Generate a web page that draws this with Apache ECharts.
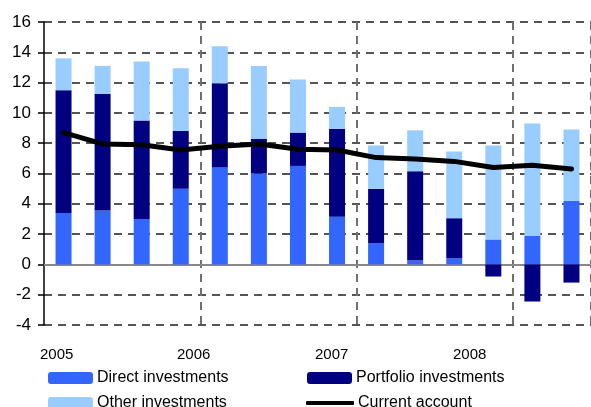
<!DOCTYPE html>
<html><head><meta charset="utf-8">
<script src="https://cdn.jsdelivr.net/npm/echarts@6/dist/echarts.min.js"></script>
<style>html,body{margin:0;padding:0;background:#fff}#c{width:591px;height:407px}</style>
</head><body><div id="c"></div>
<script>
const quarters = ['2005Q1','2005Q2','2005Q3','2005Q4','2006Q1','2006Q2','2006Q3','2006Q4','2007Q1','2007Q2','2007Q3','2007Q4','2008Q1','2008Q2'];
const direct =    [3.4, 3.55, 3.0, 5.0, 6.4, 6.0, 6.5, 3.15, 1.4, 0.25, 0.4, 1.65, 1.9, 4.2];
const portfolio = [8.1, 7.7, 6.5, 3.8, 5.55, 2.3, 2.2, 5.8, 3.6, 5.9, 2.65, -0.8, -2.45, -1.2];
const other =     [2.1, 1.85, 3.9, 4.15, 2.45, 4.8, 3.5, 1.45, 2.85, 2.7, 4.4, 6.2, 7.4, 4.7];
const current =   [8.7, 7.95, 7.9, 7.55, 7.8, 7.95, 7.6, 7.55, 7.05, 6.95, 6.8, 6.4, 6.55, 6.3];
const years = ['2005','2006','2007','2008'];
const yearLabelX = [57, 194, 332, 470];
const yTicks = {min: -4, max: 16, interval: 2};

const FONT = 'Liberation Sans';
const chart = echarts.init(document.getElementById('c'), null, {renderer: 'canvas'});
const legendBase = (name, left, top, extra) => Object.assign({
  data: [name], left: left, top: top, itemWidth: 45, itemHeight: 12, itemGap: 0,
  padding: 0, textStyle: {fontFamily: FONT, fontSize: 16, color: '#000', padding: [0,0,0,-1]}
}, extra || {});
chart.setOption({
  animation: false,
  textStyle: {fontFamily: FONT},
  grid: {left: 44, right: 0, top: 22, bottom: 82, containLabel: false},
  legend: [
    legendBase('Direct investments', 48, 370),
    legendBase('Portfolio investments', 307, 370),
    legendBase('Other investments', 48, 395),
    legendBase('Current account', 306, 395, {
      data: [{name: 'Current account', icon: 'roundRect'}], itemWidth: 48, itemHeight: 4,
      itemStyle: {color: '#000'}
    })
  ],
  graphic: years.map((y, i) => ({
    type: 'text', left: yearLabelX[i] - 17, top: 347,
    style: {text: y, font: '15px "' + FONT + '"', fill: '#000'}
  })),
  xAxis: {
    type: 'category', data: quarters, boundaryGap: true,
    axisLine: {onZero: true, lineStyle: {color: '#888', width: 2}},
    axisTick: {show: false},
    axisLabel: {show: false},
    splitLine: {show: true, interval: function (i) { return i > 0 && i % 4 === 0; },
      lineStyle: {color: '#707070', type: [8, 6], width: 2}}
  },
  yAxis: {
    type: 'value', min: yTicks.min, max: yTicks.max, interval: yTicks.interval,
    axisLine: {show: true, onZero: false, lineStyle: {color: '#000', width: 1.5}},
    axisTick: {show: true, length: 6, lineStyle: {color: '#000', width: 1.5}},
    axisLabel: {fontFamily: FONT, fontSize: 17, color: '#000', margin: 13},
    splitLine: {show: true, lineStyle: {color: '#555', type: [8, 6], width: 2}}
  },
  series: [
    {name: 'Direct investments', type: 'bar', stack: 'a', data: direct, barWidth: 16, itemStyle: {color: '#3366FF'}},
    {name: 'Portfolio investments', type: 'bar', stack: 'a', data: portfolio, barWidth: 16, itemStyle: {color: '#000080'}},
    {name: 'Other investments', type: 'bar', stack: 'a', data: other, barWidth: 16, itemStyle: {color: '#99CCFF'}},
    {name: 'Current account', type: 'line', data: current, symbol: 'none', z: 5,
     lineStyle: {color: '#000', width: 5, cap: 'round', join: 'round'}, itemStyle: {color: '#000'}}
  ]
});
</script></body></html>
